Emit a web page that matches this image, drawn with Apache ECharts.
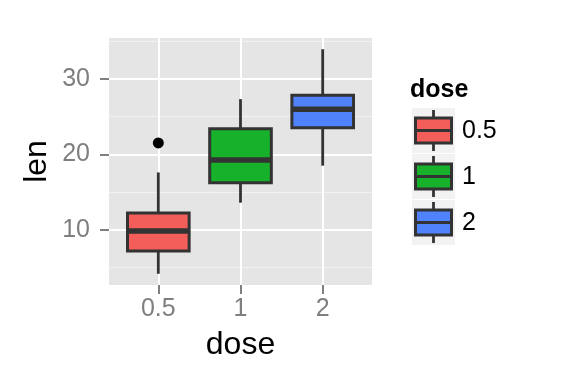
<!DOCTYPE html>
<html>
<head>
<meta charset="utf-8">
<script src="https://cdn.jsdelivr.net/npm/echarts@6/dist/echarts.min.js"></script>
<style>
html,body{margin:0;padding:0;background:#fff;}
#c{width:576px;height:384px;}
</style>
</head>
<body>
<div id="c"></div>
<script>
// ---- data (ToothGrowth len by dose) ----
const doseLabels = ['0.5', '1', '2'];
const lowerWhisker = [4.2, 13.6, 18.5];
const q1 = [7.225, 16.25, 23.525];
const median = [9.85, 19.25, 25.95];
const q3 = [12.25, 23.375, 27.825];
const upperWhisker = [17.6, 27.3, 33.9];
const outlierDoseIndex = [0];
const outlierValue = [21.5];
const yTicks = [10, 20, 30];
const yMinorTicks = [5, 15, 25, 35];

// ---- styles ----
const fills = ['#F35E5A', '#17B12B', '#5083FB'];
const FONT = '"Liberation Sans", Arial, Helvetica, sans-serif';
const dark = '#333333';

const xPos = doseLabels.map((d, i) => i + 1);
const boxData = doseLabels.map((d, i) => [xPos[i], lowerWhisker[i], q1[i], median[i], q3[i], upperWhisker[i]]);
const outlierData = outlierDoseIndex.map((k, j) => [xPos[k], outlierValue[j]]);

const yMin = 2.715, yMax = 35.385;

function renderBox(params, api) {
  const x = api.value(0);
  const pLo = api.coord([x, api.value(1)]);
  const pQ1 = api.coord([x, api.value(2)]);
  const pMed = api.coord([x, api.value(3)]);
  const pQ3 = api.coord([x, api.value(4)]);
  const pHi = api.coord([x, api.value(5)]);
  const hw = api.size([0.75, 0])[0] / 2;
  const cx = pMed[0];
  const col = fills[params.dataIndex];
  return {
    type: 'group',
    children: [
      { type: 'line', shape: { x1: cx, y1: pQ1[1], x2: cx, y2: pLo[1] }, style: { stroke: dark, lineWidth: 2.8 } },
      { type: 'line', shape: { x1: cx, y1: pQ3[1], x2: cx, y2: pHi[1] }, style: { stroke: dark, lineWidth: 2.8 } },
      { type: 'rect', shape: { x: cx - hw, y: pQ3[1], width: 2 * hw, height: pQ1[1] - pQ3[1] }, style: { fill: col, stroke: dark, lineWidth: 3 } },
      { type: 'line', shape: { x1: cx - hw, y1: pMed[1], x2: cx + hw, y2: pMed[1] }, style: { stroke: dark, lineWidth: 5.5 } }
    ]
  };
}

// legend built as graphic elements
const legendGraphics = [];
legendGraphics.push({
  type: 'text', left: 410, top: 78,
  style: { text: 'dose', font: 'bold 25px ' + FONT, fill: '#000' }
});
doseLabels.forEach((lab, i) => {
  const top = 108 + i * 46;
  legendGraphics.push({
    type: 'group', x: 412, y: top,
    children: [
      { type: 'rect', shape: { x: 0, y: 0, width: 43, height: 45 }, style: { fill: '#F2F2F2' } },
      { type: 'line', shape: { x1: 21.5, y1: 2, x2: 21.5, y2: 43 }, style: { stroke: dark, lineWidth: 2.8 } },
      { type: 'rect', shape: { x: 3.5, y: 10, width: 36, height: 25 }, style: { fill: fills[i], stroke: dark, lineWidth: 3 } },
      { type: 'line', shape: { x1: 3.5, y1: 22.5, x2: 39.5, y2: 22.5 }, style: { stroke: dark, lineWidth: 3 } },
      { type: 'text', x: 50, y: 23.5, style: { text: lab, font: '25px ' + FONT, fill: '#000', verticalAlign: 'middle', align: 'left' } }
    ]
  });
});

const chart = echarts.init(document.getElementById('c'), null, { renderer: 'canvas' });
chart.setOption({
  animation: false,
  backgroundColor: '#ffffff',
  grid: { left: 109, right: 204, top: 38, bottom: 99, show: true, backgroundColor: '#E5E5E5', borderWidth: 0 },
  xAxis: {
    type: 'value', min: 0.4, max: 3.6,
    name: 'dose', nameLocation: 'middle', nameGap: 44,
    nameTextStyle: { fontFamily: FONT, fontSize: 32, color: '#000' },
    axisLine: { show: false },
    axisTick: { show: true, customValues: xPos, length: 9, lineStyle: { color: '#7F7F7F', width: 2 } },
    axisLabel: { customValues: xPos, margin: 12, fontFamily: FONT, fontSize: 25, color: '#7F7F7F',
      formatter: v => doseLabels[Math.round(v) - 1] },
    splitLine: { show: true, lineStyle: { color: '#ffffff', width: 2 } }
  },
  yAxis: [
    {
      type: 'value', min: yMin, max: yMax,
      axisLine: { show: false },
      axisTick: { show: false, customValues: yMinorTicks },
      axisLabel: { show: false, customValues: yMinorTicks },
      splitLine: { show: true, lineStyle: { color: '#F2F2F2', width: 1 } }
    },
    {
      type: 'value', min: yMin, max: yMax, position: 'left',
      name: 'len', nameLocation: 'middle', nameGap: 56, nameRotate: 90,
      nameTextStyle: { fontFamily: FONT, fontSize: 32, color: '#000' },
      axisLine: { show: false },
      axisTick: { show: true, customValues: yTicks, length: 9, lineStyle: { color: '#7F7F7F', width: 2 } },
      axisLabel: { customValues: yTicks, margin: 19, fontFamily: FONT, fontSize: 25, color: '#7F7F7F' },
      splitLine: { show: true, lineStyle: { color: '#ffffff', width: 2 } }
    }
  ],
  series: [
    { type: 'custom', yAxisIndex: 1, renderItem: renderBox, data: boxData, z: 5 },
    { type: 'scatter', yAxisIndex: 1, data: outlierData, symbol: 'circle', symbolSize: 11,
      itemStyle: { color: '#000', opacity: 1 }, z: 6 }
  ],
  graphic: legendGraphics
});
</script>
</body>
</html>
